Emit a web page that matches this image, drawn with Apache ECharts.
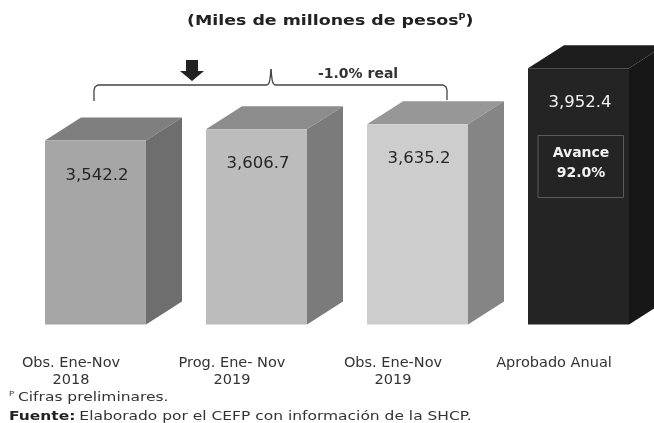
<!DOCTYPE html>
<html>
<head>
<meta charset="utf-8">
<style>
  html, body { margin: 0; padding: 0; background: #fff; }
  #chart { width: 654px; height: 423px; filter: blur(0.6px); }
</style>
</head>
<body>
<div id="chart"></div>
<script src="https://cdn.jsdelivr.net/npm/echarts@6/dist/echarts.min.js"></script>
<script>
var categories = ['Obs. Ene-Nov\n2018', 'Prog. Ene- Nov\n2019', 'Obs. Ene-Nov\n2019', 'Aprobado Anual'];
var values = [3542.2, 3606.7, 3635.2, 3952.4];
var frontColors = ['#a6a6a6', '#bcbcbc', '#cdcdcd', '#242424'];
var topColors = ['#7f7f7f', '#8c8c8c', '#979797', '#1d1d1d'];
var sideColors = ['#6e6e6e', '#7b7b7b', '#858585', '#171717'];
var labelColors = ['#262626', '#262626', '#262626', '#f2f2f2'];

var font = '"DejaVu Sans"';
var depthX = 36;
var depthY = 23;

var chart = echarts.init(document.getElementById('chart'));

// caja 3D: frente, tapa y lateral
function renderBox(params, api) {
  var i = api.value(0);
  var top = api.coord([i, api.value(1)]);
  var base = api.coord([i, 2500]);
  var w = 101;
  var x0 = Math.round(top[0] - w / 2);
  var x1 = x0 + w;
  return {
    type: 'group',
    children: [
      { type: 'polygon', shape: { points: [[x0, top[1]], [x0 + depthX, top[1] - depthY], [x1 + depthX, top[1] - depthY], [x1, top[1]]] }, style: { fill: topColors[i] } },
      { type: 'polygon', shape: { points: [[x1, top[1]], [x1 + depthX, top[1] - depthY], [x1 + depthX, base[1] - depthY], [x1, base[1]]] }, style: { fill: sideColors[i] } },
      { type: 'rect', shape: { x: x0, y: top[1], width: w, height: base[1] - top[1] }, style: { fill: frontColors[i] } },
      { type: 'text', style: { x: top[0] + 2, y: top[1] + 35, text: values[i].toLocaleString('en-US', { minimumFractionDigits: 1 }), fill: labelColors[i], font: '16.5px ' + font, align: 'center', verticalAlign: 'middle' } }
    ]
  };
}

var braceStyle = { fill: 'none', stroke: '#444', lineWidth: 1.3 };

var option = {
  animation: false,
  backgroundColor: '#fff',
  grid: { left: 14.5, width: 644, top: 24.5, height: 300, outerBoundsMode: 'none' },
  xAxis: {
    type: 'category',
    data: categories,
    axisLine: { show: false },
    axisTick: { show: false },
    axisLabel: {
      margin: 30,
      color: '#333',
      fontFamily: font,
      fontSize: 14.5,
      lineHeight: 17,
      padding: [0, 48, 0, 0],
      interval: 0
    }
  },
  yAxis: { type: 'value', min: 2500, max: 4200, show: false },
  series: [{
    type: 'custom',
    clip: false,
    renderItem: renderBox,
    data: values.map(function (v, i) { return [i, v]; })
  }],
  graphic: [
    // titulo
    { type: 'text', x: 187, y: 14, z: 100, scaleX: 1.2, style: {
      text: '{b|(Miles de millones de pesos}{s|P}{b|)}',
      rich: {
        b: { font: 'bold 14.5px ' + font, fill: '#222' },
        s: { font: 'bold 8px ' + font, fill: '#222', verticalAlign: 'top' }
      }
    } },
    // llave
    { type: 'polyline', shape: { points: [[94, 101], [94, 90], [95, 87], [98, 85], [266, 85]] }, style: braceStyle },
    { type: 'bezierCurve', shape: { x1: 266, y1: 85, cpx1: 270, cpy1: 85, cpx2: 270, cpy2: 80, x2: 271, y2: 69 }, style: braceStyle },
    { type: 'bezierCurve', shape: { x1: 271, y1: 69, cpx1: 272, cpy1: 80, cpx2: 272, cpy2: 85, x2: 276, y2: 85 }, style: braceStyle },
    { type: 'polyline', shape: { points: [[276, 85], [443, 85], [446, 87], [447, 90], [447, 100]] }, style: braceStyle },
    // flecha
    { type: 'polygon', shape: { points: [[186, 60], [198, 60], [198, 71], [204, 71], [192, 81], [180, 71], [186, 71]] }, style: { fill: '#222' } },
    { type: 'text', x: 318, y: 67, z: 100, style: { text: '-1.0% real', font: 'bold 14px ' + font, fill: '#333' } },
    // avance
    { type: 'rect', z: 100, shape: { x: 538, y: 135.5, width: 85.5, height: 62 }, style: { fill: 'none', stroke: '#5a5a5a', lineWidth: 1 } },
    { type: 'text', x: 581, y: 143, z: 100, style: { text: 'Avance\n92.0%', font: 'bold 14px ' + font, lineHeight: 20, fill: '#f2f2f2', align: 'center' } },
    // notas
    { type: 'text', x: 9, y: 391, scaleX: 1.19, style: {
      text: '{s|P} {t|Cifras preliminares.}',
      rich: {
        s: { font: '7px ' + font, fill: '#333', verticalAlign: 'top' },
        t: { font: '13px ' + font, fill: '#333' }
      }
    } },
    { type: 'text', x: 9, y: 410, scaleX: 1.19, style: {
      text: '{b|Fuente:} {t|Elaborado por el CEFP con información de la SHCP.}',
      rich: {
        b: { font: 'bold 13px ' + font, fill: '#222' },
        t: { font: '13px ' + font, fill: '#333' }
      }
    } }
  ]
};
chart.setOption(option);
</script>
</body>
</html>
